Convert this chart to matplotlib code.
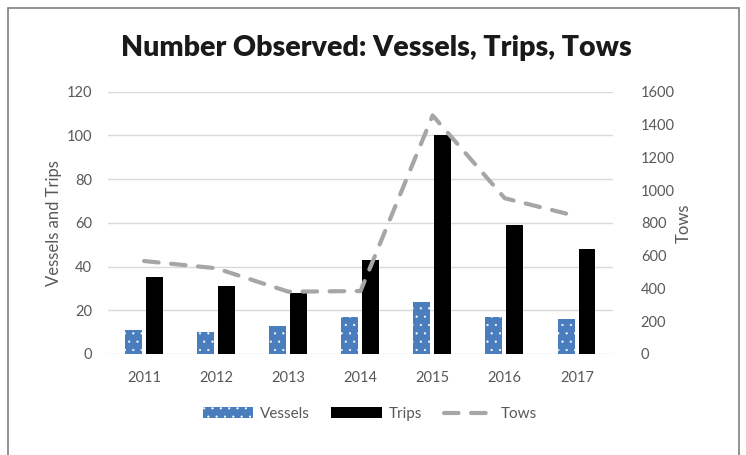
import matplotlib.pyplot as plt
import numpy as np
from matplotlib.patches import Rectangle

years = ["2011", "2012", "2013", "2014", "2015", "2016", "2017"]
vessels = [11, 10, 13, 17, 24, 17, 16]
trips = [35, 31, 28, 43, 100, 59, 48]
tows = [567, 523, 380, 384, 1455, 950, 840]

plt.rcParams['font.family'] = ['Lato', 'DejaVu Sans']
plt.rcParams['hatch.linewidth'] = 0.35
grey_txt = "#595959"

fig = plt.figure(figsize=(7.46, 4.55), dpi=100)
ax = fig.add_axes([0.1448, 0.222, 0.6769, 0.5765])
ax2 = ax.twinx()

x = np.arange(len(years))
w = 0.235
ax.bar(x - 0.15, vessels, w, color="#4a7dbd", edgecolor="white", linewidth=0,
       hatch="..", label="Vessels", zorder=3)
ax.bar(x + 0.14, trips, w, color="black", label="Trips", zorder=3)
ax2.plot(x, tows, color="#a6a6a6", lw=3, dashes=(3.5, 3), dash_capstyle="round",
         label="Tows", zorder=4)

ax.set_xlim(-0.5, len(years) - 0.5)
ax.set_ylim(0, 120)
ax.set_yticks(range(0, 121, 20))
ax2.set_ylim(0, 1600)
ax2.set_yticks(range(0, 1601, 200))
ax.set_xticks(x, years)

ax.grid(axis="y", color="#d9d9d9", lw=1, zorder=0)
ax.set_axisbelow(True)
ax.set_zorder(ax2.get_zorder() - 1)
ax.patch.set_visible(False)
ax2.patch.set_visible(False)

for a in (ax, ax2):
    for s in a.spines.values():
        s.set_visible(False)
    a.tick_params(length=0, labelsize=10.5, labelcolor=grey_txt)
ax.tick_params(axis="y", pad=11.5)
ax2.tick_params(axis="y", pad=20)
ax.tick_params(axis="x", pad=12)

ax.set_ylabel("Vessels and Trips", fontsize=12, color=grey_txt, labelpad=3)
ax2.set_ylabel("Tows", fontsize=12, color=grey_txt, rotation=90, labelpad=1)

fig.text(0.504, 0.894, "Number Observed: Vessels, Trips, Tows", ha="center",
         va="center", fontsize=20.5, fontweight="heavy", color="#1a1a1a")

h1, l1 = ax.get_legend_handles_labels()
h2, l2 = ax2.get_legend_handles_labels()
fig.legend(h1 + h2, l1 + l2, loc="center", bbox_to_anchor=(0.496, 0.09),
           ncol=3, frameon=False, fontsize=11, handlelength=3.3,
           handleheight=0.7, handletextpad=0.45, columnspacing=1.4,
           labelcolor=grey_txt)

# outer frame around the chart
fig.patches.append(Rectangle((8 / 746, -0.1), 731 / 746, 1.1 - 8 / 455,
                             transform=fig.transFigure, fill=False,
                             edgecolor="#7f7f7f", lw=1.2))

fig.savefig("out.png", dpi=100)
